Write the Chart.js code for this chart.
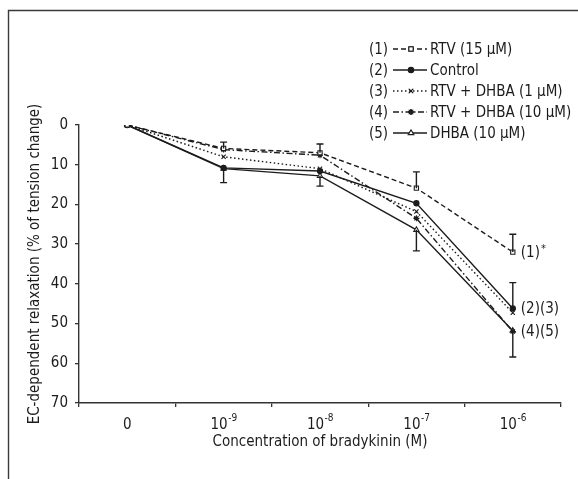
<!DOCTYPE html>
<html>
<head>
<meta charset="utf-8">
<script src="https://cdn.jsdelivr.net/npm/chart.js@4.4.1/dist/chart.umd.min.js"></script>
<style>
html,body{margin:0;padding:0;background:#fff;}
#wrap{position:relative;width:578px;height:479px;}
</style>
</head>
<body>
<div id="wrap"><canvas id="c" width="578" height="479"></canvas></div>
<script>
const categories = ['0', '10^-9', '10^-8', '10^-7', '10^-6'];
const tickBase = ['0', '10', '10', '10', '10'];
const tickExp = ['', '-9', '-8', '-7', '-6'];
const yTicks = [0, 10, 20, 30, 40, 50, 60, 70];

const rtv15 = [0, 5.9, 7.0, 15.9, 32.0];
const control = [0, 10.8, 11.6, 19.7, 46.2];
const rtvDhba1 = [0, 8.0, 11.0, 21.8, 47.3];
const rtvDhba10 = [0, 6.2, 7.6, 23.5, 52.0];
const dhba10 = [0, 11.0, 12.8, 26.4, 51.8];

const rtvErrUp = [0, 1.6, 2.2, 4.1, 4.5];
const controlErrUp = [0, 0, 0, 0, 6.5];
const dhbaErrDown = [0, 3.5, 2.6, 5.3, 6.6];

const legendNums = ['(1)', '(2)', '(3)', '(4)', '(5)'];
const legendLabels = ['RTV (15 µM)', 'Control', 'RTV + DHBA (1 µM)', 'RTV + DHBA (10 µM)', 'DHBA (10 µM)'];
const endLabels = ['(1)', '(2)(3)', '(4)(5)'];
const endLabelSup = ['*', '', ''];
const endLabelSeries = [0, 1, 4];

const FONT = '"Liberation Sans Narrow", "DejaVu Sans Condensed", "Roboto Condensed", sans-serif';
const INK = '#1c1c1c';

function ds(label, data, dash, style, fill, radius) {
  return {
    label, data, borderColor: INK, borderWidth: 1.4, borderDash: dash,
    pointStyle: style, pointRadius: radius, pointHoverRadius: radius,
    pointBackgroundColor: fill, pointBorderColor: INK, pointBorderWidth: 1.1,
    tension: 0, fill: false
  };
}

const datasets = [
  ds(legendLabels[0], rtv15, [5, 3], 'rect', '#fff', 3),
  ds(legendLabels[1], control, [], 'circle', INK, 2.6),
  ds(legendLabels[2], rtvDhba1, [1.5, 2.5], 'crossRot', INK, 3),
  ds(legendLabels[3], rtvDhba10, [6, 2.5, 1.5, 2.5], 'star', INK, 3),
  ds(legendLabels[4], dhba10, [], 'triangle', '#fff', 3)
];
datasets[0].errUp = rtvErrUp;
datasets[1].errUp = controlErrUp;
datasets[4].errDown = dhbaErrDown;

const framePlugin = {
  id: 'frame',
  beforeDraw(chart) {
    const ctx = chart.ctx;
    ctx.save();
    ctx.fillStyle = '#fff';
    ctx.fillRect(0, 0, chart.width, chart.height);
    ctx.strokeStyle = '#3a3a3a';
    ctx.lineWidth = 1.4;
    ctx.beginPath();
    ctx.moveTo(8.5, chart.height);
    ctx.lineTo(8.5, 10.5);
    ctx.lineTo(chart.width, 10.5);
    ctx.stroke();
    ctx.restore();
  }
};

const extrasPlugin = {
  id: 'extras',
  afterDatasetsDraw(chart) {
    const ctx = chart.ctx;
    const xs = chart.scales.x, ys = chart.scales.y;
    ctx.save();
    ctx.strokeStyle = INK;
    ctx.lineWidth = 1.4;
    ctx.setLineDash([]);
    chart.data.datasets.forEach(d => {
      d.data.forEach((v, i) => {
        const up = d.errUp ? d.errUp[i] : 0;
        const dn = d.errDown ? d.errDown[i] : 0;
        if (!up && !dn) return;
        const x = xs.getPixelForValue(i);
        const y0 = ys.getPixelForValue(v - up);
        const y1 = ys.getPixelForValue(v + dn);
        ctx.beginPath();
        ctx.moveTo(x, y0); ctx.lineTo(x, y1);
        if (up) { ctx.moveTo(x - 3.5, y0); ctx.lineTo(x + 3.5, y0); }
        if (dn) { ctx.moveTo(x - 3.5, y1); ctx.lineTo(x + 3.5, y1); }
        ctx.stroke();
      });
    });
    ctx.fillStyle = INK;
    ctx.textBaseline = 'alphabetic';
    categories.forEach((c, i) => {
      const x = xs.getPixelForValue(i);
      ctx.font = '15px ' + FONT;
      const wb = ctx.measureText(tickBase[i]).width;
      ctx.font = '10px ' + FONT;
      const we = tickExp[i] ? ctx.measureText(tickExp[i]).width : 0;
      const left = x - (wb + we) / 2;
      ctx.font = '15px ' + FONT;
      ctx.textAlign = 'left';
      ctx.fillText(tickBase[i], left, 429);
      if (tickExp[i]) {
        ctx.font = '10px ' + FONT;
        ctx.fillText(tickExp[i], left + wb + 0.5, 421);
      }
    });
    const lastIdx = categories.length - 1;
    endLabels.forEach((t, k) => {
      const d = chart.data.datasets[endLabelSeries[k]];
      const x = xs.getPixelForValue(lastIdx) + 8;
      const y = ys.getPixelForValue(d.data[lastIdx]);
      ctx.font = '15px ' + FONT;
      ctx.textAlign = 'left';
      ctx.textBaseline = 'middle';
      ctx.fillText(t, x, y + 1);
      if (endLabelSup[k]) {
        const w = ctx.measureText(t).width;
        ctx.font = '11px ' + FONT;
        ctx.fillText(endLabelSup[k], x + w + 1, y - 3);
      }
    });
    const rowY0 = 49, rowGap = 21;
    chart.data.datasets.forEach((d, i) => {
      const y = rowY0 + i * rowGap;
      ctx.font = '15px ' + FONT;
      ctx.textAlign = 'left';
      ctx.textBaseline = 'middle';
      ctx.fillStyle = INK;
      ctx.fillText(legendNums[i], 369, y + 1);
      ctx.strokeStyle = INK;
      ctx.lineWidth = 1.3;
      ctx.setLineDash(d.borderDash);
      ctx.beginPath();
      ctx.moveTo(393, y); ctx.lineTo(427, y);
      ctx.stroke();
      ctx.setLineDash([]);
      Chart.helpers.drawPoint(ctx, {
        pointStyle: d.pointStyle, radius: d.pointRadius, borderWidth: 1
      }, 411, y);
      ctx.fillStyle = d.pointBackgroundColor;
      ctx.strokeStyle = INK;
      ctx.lineWidth = 1;
      ctx.fill();
      ctx.stroke();
      ctx.fillStyle = INK;
      ctx.fillText(d.label, 430, y + 1);
    });
    ctx.restore();
  }
};

new Chart(document.getElementById('c'), {
  type: 'line',
  data: { labels: categories, datasets },
  plugins: [framePlugin, extrasPlugin],
  options: {
    responsive: false,
    animation: false,
    events: [],
    layout: { padding: { top: 125, right: 17, left: 0, bottom: 0 } },
    plugins: { legend: { display: false }, tooltip: { enabled: false } },
    scales: {
      x: {
        type: 'category',
        offset: true,
        afterFit(s) { s.height = 76; },
        grid: { offset: true, drawOnChartArea: false, drawTicks: true, tickLength: 4, color: '#333', lineWidth: 1.3 },
        border: { display: true, color: '#333', width: 1.4 },
        ticks: { display: false },
        title: { display: true, text: 'Concentration of bradykinin (M)', color: INK,
                 font: { family: FONT, size: 15 }, padding: { top: 0, bottom: 28 } }
      },
      y: {
        type: 'linear',
        reverse: true,
        min: 0, max: 70,
        afterFit(s) { s.width = 79; },
        afterBuildTicks(s) { s.ticks = yTicks.map(v => ({ value: v })); },
        grid: { drawOnChartArea: false, drawTicks: true, tickLength: 4, color: '#333', lineWidth: 1.3 },
        border: { display: true, color: '#333', width: 1.4 },
        ticks: { color: INK, font: { family: FONT, size: 15 }, padding: 7 },
        title: { display: true, text: 'EC-dependent relaxation (% of tension change)', color: INK,
                 font: { family: FONT, size: 15 }, padding: { top: 26, bottom: 0 } }
      }
    }
  }
});
</script>
</body>
</html>
